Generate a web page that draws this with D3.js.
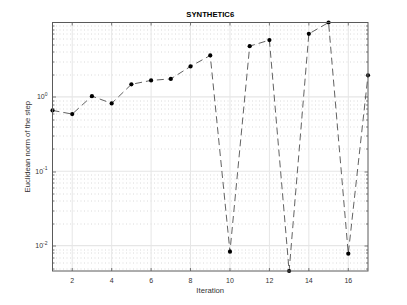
<!DOCTYPE html>
<html>
<head>
<meta charset="utf-8">
<script src="https://cdn.jsdelivr.net/npm/d3@7"></script>
<style>
  body { margin: 0; background: #fff; }
  svg { display: block; font-family: "Liberation Sans", Arial, sans-serif; }
</style>
</head>
<body>
<div id="wrapper"></div>
<script>
const iterations = [1, 2, 3, 4, 5, 6, 7, 8, 9, 10, 11, 12, 13, 14, 15, 16, 17]
const stepNorms = [0.656, 0.586, 1.02, 0.815, 1.47, 1.66, 1.74, 2.56, 3.59, 0.0083,
  4.79, 5.77, 0.00457, 7.01, 9.95, 0.0078, 1.94]
const xTicks = [2, 4, 6, 8, 10, 12, 14, 16]
const yTicks = [0.01, 0.1, 1]

function drawChart() {
  const data = iterations.map((d, i) => ({ x: d, y: stepNorms[i] }))
  const xAccessor = d => d.x
  const yAccessor = d => d.y

  const dims = {
    width: 407,
    height: 305,
    margin: { top: 22.5, right: 39, bottom: 34, left: 52.5 }
  }
  dims.boundedWidth = dims.width - dims.margin.left - dims.margin.right
  dims.boundedHeight = dims.height - dims.margin.top - dims.margin.bottom

  const svg = d3.select("#wrapper")
    .append("svg")
      .attr("width", dims.width)
      .attr("height", dims.height)

  const bounds = svg.append("g")
    .attr("transform", `translate(${dims.margin.left},${dims.margin.top})`)

  // scales (axis tight)
  const xScale = d3.scaleLinear()
    .domain(d3.extent(data, xAccessor))
    .range([0, dims.boundedWidth])

  const yScale = d3.scaleLog()
    .domain(d3.extent(data, yAccessor))
    .range([dims.boundedHeight, 0])

  const [yMin, yMax] = yScale.domain()
  const minorTicks = []
  for (let e = -3; e <= 1; e++) {
    for (let k = 2; k <= 9; k++) {
      const v = k * Math.pow(10, e)
      if (v >= yMin && v <= yMax) minorTicks.push(v)
    }
  }

  // grid
  const grid = bounds.append("g")
  grid.selectAll(".minor")
    .data(minorTicks)
    .join("line")
      .attr("x1", 0)
      .attr("x2", dims.boundedWidth)
      .attr("y1", d => Math.round(yScale(d)) + 0.5)
      .attr("y2", d => Math.round(yScale(d)) + 0.5)
      .attr("stroke", "#d0d0d0")
      .attr("stroke-width", 0.8)
      .attr("stroke-dasharray", "1,2.5")
  grid.selectAll(".majorY")
    .data(yTicks)
    .join("line")
      .attr("x1", 0)
      .attr("x2", dims.boundedWidth)
      .attr("y1", d => yScale(d))
      .attr("y2", d => yScale(d))
      .attr("stroke", "#e6e6e6")
      .attr("stroke-width", 1.2)
  grid.selectAll(".majorX")
    .data(xTicks)
    .join("line")
      .attr("x1", d => xScale(d))
      .attr("x2", d => xScale(d))
      .attr("y1", 0)
      .attr("y2", dims.boundedHeight)
      .attr("stroke", "#e6e6e6")
      .attr("stroke-width", 1)

  // line + markers
  const lineGenerator = d3.line()
    .x(d => xScale(xAccessor(d)))
    .y(d => yScale(yAccessor(d)))

  bounds.append("path")
    .datum(data)
    .attr("d", lineGenerator)
    .attr("fill", "none")
    .attr("stroke", "#3a3a3a")
    .attr("stroke-width", 0.8)
    .attr("stroke-dasharray", "7,4")

  bounds.selectAll("circle")
    .data(data)
    .join("circle")
      .attr("cx", d => xScale(xAccessor(d)))
      .attr("cy", d => yScale(yAccessor(d)))
      .attr("r", 2.1)
      .attr("fill", "#000")

  // ticks on all four sides
  const tickColor = "#5a5a5a"
  const ticks = bounds.append("g").attr("stroke", tickColor).attr("stroke-width", 0.8)
  xTicks.forEach(t => {
    const x = xScale(t)
    ticks.append("line").attr("x1", x).attr("x2", x).attr("y1", dims.boundedHeight).attr("y2", dims.boundedHeight - 3)
    ticks.append("line").attr("x1", x).attr("x2", x).attr("y1", 0).attr("y2", 3)
  })
  yTicks.concat(minorTicks).forEach(t => {
    const y = Math.round(yScale(t)) + 0.5
    const len = yTicks.includes(t) ? 3.5 : 2
    ticks.append("line").attr("x1", 0).attr("x2", len).attr("y1", y).attr("y2", y)
    ticks.append("line").attr("x1", dims.boundedWidth).attr("x2", dims.boundedWidth - len).attr("y1", y).attr("y2", y)
  })

  // box
  bounds.append("rect")
    .attr("width", dims.boundedWidth)
    .attr("height", dims.boundedHeight)
    .attr("fill", "none")
    .attr("stroke", tickColor)
    .attr("stroke-width", 1)

  // tick labels
  bounds.append("g")
    .selectAll("text")
    .data(xTicks)
    .join("text")
      .attr("x", d => xScale(d))
      .attr("y", dims.boundedHeight + 12)
      .attr("text-anchor", "middle")
      .attr("font-size", 7)
      .attr("fill", "#333")
      .text(d => d)

  const yLabels = bounds.append("g")
    .selectAll("text")
    .data(yTicks)
    .join("text")
      .attr("x", -5)
      .attr("y", d => yScale(d) + 2.5)
      .attr("text-anchor", "end")
      .attr("font-size", 7)
      .attr("fill", "#333")
  yLabels.append("tspan").text("10")
  yLabels.append("tspan")
    .attr("dy", -3.5)
    .attr("font-size", 5)
    .text(d => Math.round(Math.log10(d)))

  // titles
  svg.append("text")
    .attr("x", dims.margin.left + dims.boundedWidth / 2)
    .attr("y", 17)
    .attr("text-anchor", "middle")
    .attr("font-size", 7.7)
    .attr("font-weight", "bold")
    .attr("fill", "#000")
    .text("SYNTHETIC6")

  svg.append("text")
    .attr("x", dims.margin.left + dims.boundedWidth / 2)
    .attr("y", 293)
    .attr("text-anchor", "middle")
    .attr("font-size", 7.7)
    .attr("fill", "#333")
    .text("Iteration")

  svg.append("text")
    .attr("transform", `translate(30,${dims.margin.top + dims.boundedHeight / 2}) rotate(-90)`)
    .attr("text-anchor", "middle")
    .attr("font-size", 7.7)
    .attr("fill", "#333")
    .text("Euclidean norm of the step")
}
drawChart()
</script>
</body>
</html>
